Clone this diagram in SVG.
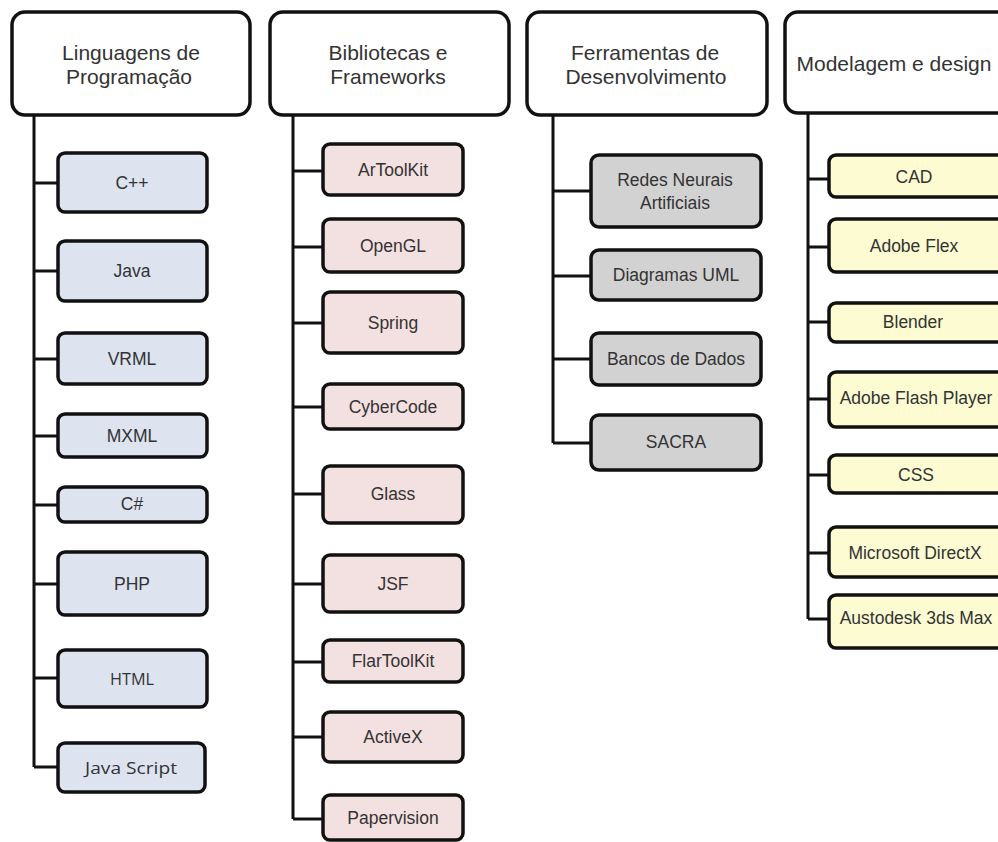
<svg xmlns="http://www.w3.org/2000/svg" width="998" height="842" viewBox="0 0 998 842">
<style>
.hdr{fill:#ffffff;stroke:#111;stroke-width:3.5}
.b{stroke:#111;stroke-width:3.5}
.c1{fill:#dde4f0}
.c2{fill:#f3e0e0}
.c3{fill:#d2d2d2}
.c4{fill:#fcfbd2}
.ht{font-family:"Liberation Sans",Arial,sans-serif;font-size:21px;fill:#333;text-anchor:middle;dominant-baseline:central}
.t{font-family:"Liberation Sans",Arial,sans-serif;font-size:17.5px;fill:#333;text-anchor:middle;dominant-baseline:central}
.tc{font-family:"Open Sans","Noto Sans",sans-serif;font-size:17px;fill:#333;text-anchor:middle;dominant-baseline:central}
.ln{stroke:#111;stroke-width:3;fill:none}
</style>
<rect width="998" height="842" fill="#ffffff"/>
<g id="connectors">
<path class="ln" d="M34 115V767M34 183H58M34 271H58M34 359H58M34 436H58M34 505H58M34 584H58M34 678H58M34 767H58"/>
<path class="ln" d="M293 115V819M293 171H323M293 247H323M293 323H323M293 407H323M293 494H323M293 584H323M293 662H323M293 737H323M293 819H323"/>
<path class="ln" d="M553 115V443M553 191H591M553 276H591M553 359H591M553 443H591"/>
<path class="ln" d="M808 113V619M808 179H829M808 247H829M808 322H829M808 399H829M808 475H829M808 553H829M808 619H829"/>
</g>
<g id="h1"><rect class="hdr" x="12" y="12" width="238" height="103" rx="13"/><text class="ht" x="131" y="52">Linguagens de</text><text class="ht" x="129" y="76">Programação</text></g>
<g id="h2"><rect class="hdr" x="270" y="12" width="239" height="103" rx="13"/><text class="ht" x="388" y="52">Bibliotecas e</text><text class="ht" x="388" y="76">Frameworks</text></g>
<g id="h3"><rect class="hdr" x="527" y="12" width="240" height="103" rx="13"/><text class="ht" x="645" y="52">Ferramentas de</text><text class="ht" x="646" y="76">Desenvolvimento</text></g>
<g id="h4"><rect class="hdr" x="785" y="12" width="230" height="101" rx="13"/><text class="ht" x="894" y="63">Modelagem e design</text></g>

<g id="n-cpp"><rect class="b c1" x="58" y="153" width="149" height="59" rx="7"/><text class="t" x="132" y="183">C++</text></g>
<g id="n-java"><rect class="b c1" x="58" y="241" width="149" height="60" rx="7"/><text class="t" x="132" y="271">Java</text></g>
<g id="n-vrml"><rect class="b c1" x="58" y="333" width="149" height="51" rx="7"/><text class="t" x="132" y="359">VRML</text></g>
<g id="n-mxml"><rect class="b c1" x="58" y="414" width="149" height="43" rx="7"/><text class="t" x="132" y="436">MXML</text></g>
<g id="n-cs"><rect class="b c1" x="58" y="487" width="149" height="35" rx="7"/><text class="t" x="132" y="504">C#</text></g>
<g id="n-php"><rect class="b c1" x="58" y="552" width="149" height="63" rx="7"/><text class="t" x="132" y="584">PHP</text></g>
<g id="n-html"><rect class="b c1" x="58" y="650" width="149" height="57" rx="7"/><text class="tc" x="132" y="678" textLength="44" lengthAdjust="spacingAndGlyphs">HTML</text></g>
<g id="n-js"><rect class="b c1" x="58" y="743" width="147" height="49" rx="7"/><text class="tc" x="131" y="767" textLength="92" lengthAdjust="spacingAndGlyphs">Java Script</text></g>

<g id="n-artoolkit"><rect class="b c2" x="323" y="144" width="140" height="51" rx="7"/><text class="t" x="393" y="170">ArToolKit</text></g>
<g id="n-opengl"><rect class="b c2" x="323" y="219" width="140" height="53" rx="7"/><text class="t" x="393" y="246">OpenGL</text></g>
<g id="n-spring"><rect class="b c2" x="323" y="292" width="140" height="61" rx="7"/><text class="t" x="393" y="323">Spring</text></g>
<g id="n-cybercode"><rect class="b c2" x="323" y="384" width="140" height="45" rx="7"/><text class="t" x="393" y="407">CyberCode</text></g>
<g id="n-glass"><rect class="b c2" x="323" y="466" width="140" height="57" rx="7"/><text class="t" x="393" y="494">Glass</text></g>
<g id="n-jsf"><rect class="b c2" x="323" y="555" width="140" height="57" rx="7"/><text class="t" x="393" y="584">JSF</text></g>
<g id="n-flartoolkit"><rect class="b c2" x="323" y="640" width="140" height="42" rx="7"/><text class="t" x="393" y="661">FlarToolKit</text></g>
<g id="n-activex"><rect class="b c2" x="323" y="712" width="140" height="50" rx="7"/><text class="t" x="393" y="737">ActiveX</text></g>
<g id="n-papervision"><rect class="b c2" x="323" y="795" width="140" height="45" rx="7"/><text class="t" x="393" y="818">Papervision</text></g>

<g id="n-redes"><rect class="b c3" x="591" y="155" width="170" height="72" rx="8"/><text class="t" x="675" y="180">Redes Neurais</text><text class="t" x="675" y="203">Artificiais</text></g>
<g id="n-uml"><rect class="b c3" x="591" y="250" width="170" height="50" rx="8"/><text class="t" x="676" y="275">Diagramas UML</text></g>
<g id="n-bd"><rect class="b c3" x="591" y="333" width="170" height="52" rx="8"/><text class="t" x="676" y="359">Bancos de Dados</text></g>
<g id="n-sacra"><rect class="b c3" x="591" y="415" width="170" height="55" rx="8"/><text class="t" x="676" y="442">SACRA</text></g>

<g id="n-cad"><rect class="b c4" x="829" y="155" width="185" height="42" rx="7"/><text class="t" x="914" y="177">CAD</text></g>
<g id="n-flex"><rect class="b c4" x="829" y="219" width="185" height="53" rx="7"/><text class="t" x="914" y="246">Adobe Flex</text></g>
<g id="n-blender"><rect class="b c4" x="829" y="303" width="185" height="39" rx="7"/><text class="t" x="913" y="322">Blender</text></g>
<g id="n-flash"><rect class="b c4" x="829" y="372" width="185" height="55" rx="7"/><text class="t" x="916" y="398">Adobe Flash Player</text></g>
<g id="n-css"><rect class="b c4" x="829" y="455" width="185" height="38" rx="7"/><text class="t" x="916" y="475">CSS</text></g>
<g id="n-directx"><rect class="b c4" x="829" y="527" width="185" height="50" rx="7"/><text class="t" x="915" y="553">Microsoft DirectX</text></g>
<g id="n-3dsmax"><rect class="b c4" x="829" y="595" width="185" height="53" rx="7"/><text class="t" x="916" y="618">Austodesk 3ds Max</text></g>
</svg>
